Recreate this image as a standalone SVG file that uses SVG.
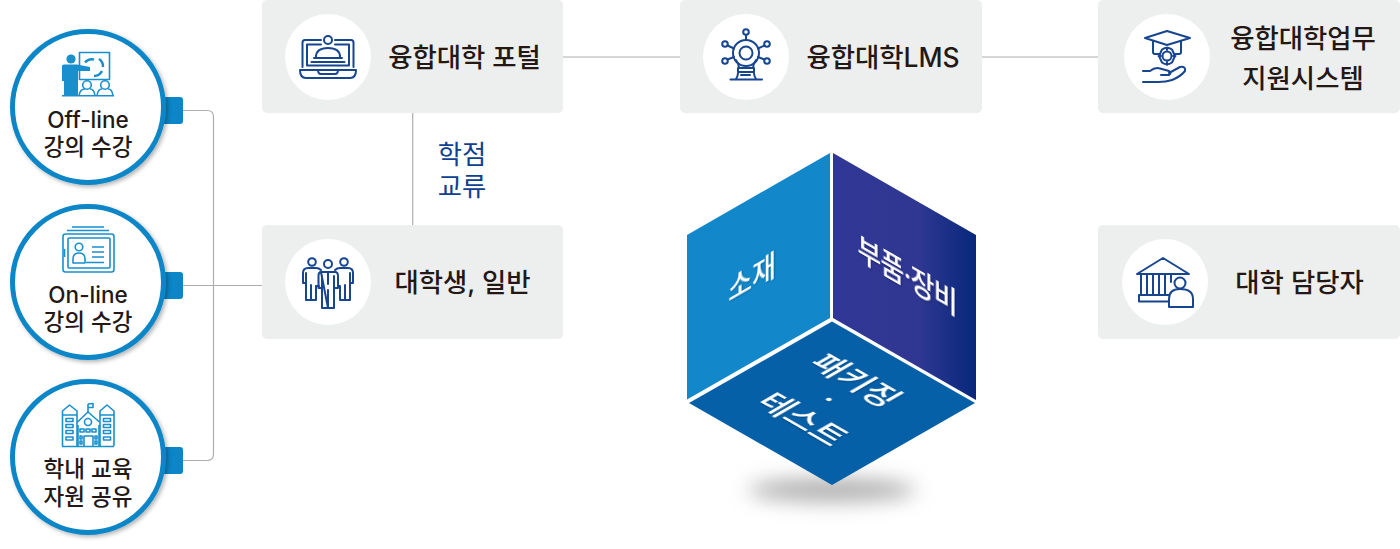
<svg xmlns="http://www.w3.org/2000/svg" width="1400" height="549" viewBox="0 0 1400 549">
<style>
text{font-family:Inter,"Noto Sans CJK KR","Noto Sans",sans-serif;font-weight:500;fill:#231815;text-anchor:middle}
.t{font-size:26.400px}
.c{font-size:22.500px}
.box{fill:#edeeee}
.ic{fill:#fff}
.d{fill:none;stroke:#17458f;stroke-width:2;stroke-linecap:round;stroke-linejoin:round}
.l{fill:none;stroke:#1a8fcd;stroke-width:1.6;stroke-linejoin:round}
.lf{fill:#1a8fcd}
.ring{fill:#fff;stroke:#0b86c8;stroke-width:5;filter:url(#sh)}
.tab{fill:#0b86c8}
.f{font-size:30px;fill:#fff;font-weight:500;filter:url(#ts)}
.g{font-size:32px}
.conn{fill:none;stroke:#aeaeae;stroke-width:1.2}
.cr{font-size:26.400px;font-weight:400;fill:#0f3f8f}
</style>
<defs>
<filter id="sh" x="-10%" y="-10%" width="125%" height="125%"><feDropShadow dx="2" dy="2" stdDeviation="2" flood-color="#000" flood-opacity=".3"/></filter>
<filter id="ts" x="-10%" y="-20%" width="120%" height="140%"><feDropShadow dx="1" dy="1" stdDeviation="1" flood-color="#000" flood-opacity=".3"/></filter>
<filter id="bl" x="-30%" y="-100%" width="160%" height="300%"><feGaussianBlur stdDeviation="10"/></filter>
<linearGradient id="rg" x1="0" x2="1" y1="0" y2="0"><stop offset="0" stop-color="#303795"/><stop offset=".6" stop-color="#2f3792"/><stop offset="1" stop-color="#07287c"/></linearGradient>
</defs>

<g id="connectors">
<path class="conn" d="M183 110.500H207Q213.500 110.500 213.500 117V454Q213.500 460.500 207 460.500H183"/>
<path class="conn" d="M183 285.500H262"/>
<path class="conn" d="M563 57H680M982 57H1098"/>
<path class="conn" d="M412.700 113V225"/>
</g>

<g id="offline">
<rect class="tab" x="160" y="97" width="23" height="27" rx="3"/>
<circle class="ring" cx="88" cy="107" r="75.500"/>
<g>
<rect class="l" x="79.500" y="52.500" width="30" height="27"/>
<circle class="lf" cx="71" cy="59" r="4.600"/>
<path class="lf" d="M62 66Q62 64.500 64 64.500H77L90 67V71H78V95H64V81H62Z"/>
<path d="M85 62.500a9 9 0 0 1 9-3M99 59a9 9 0 0 1 4 8M102 71a9 9 0 0 1-8 5" fill="none" stroke="#1a8fcd" stroke-width="2.500"/>
<circle class="l" cx="87" cy="85" r="4.300"/>
<circle class="l" cx="105" cy="85" r="4.300"/>
<path class="l" d="M79 95.500Q80 89 85 89M95 95.500Q94 89 90 89M97 95.500Q98 89 102 89M113 95.500Q112 89 108 89"/>
<path class="l" d="M62 95.700H114"/>
</g>
<text class="c"><tspan x="88" y="127.500">Off-line</tspan><tspan x="88" y="155">강의 수강</tspan></text>
</g>

<g id="online">
<rect class="tab" x="160" y="272" width="23" height="27" rx="3"/>
<circle class="ring" cx="88" cy="282" r="75.500"/>
<g>
<path class="l" d="M72 227H104M67 230.500H109"/>
<rect class="l" x="63" y="234" width="51" height="38" rx="2.500"/>
<rect class="l" x="68" y="238" width="42" height="30" rx="1"/>
<circle class="l" cx="79" cy="247" r="3.800"/>
<path class="l" d="M73 263V259Q73 253 79 253Q85 253 85 259V263Z"/>
<path class="l" d="M92 247H104M92 252H104M92 257H104M86 262.500H104M64.500 249V257"/>
</g>
<text class="c"><tspan x="88" y="302.500">On-line</tspan><tspan x="88" y="330">강의 수강</tspan></text>
</g>

<g id="campus">
<rect class="tab" x="160" y="447" width="23" height="27" rx="3"/>
<circle class="ring" cx="88" cy="457" r="75.500"/>
<g class="l">
<path d="M62.500 446V411L69.500 405L77 411V446M100 446V411L107 405L114 411V446M62.500 415H77M100 415H114"/>
<path d="M77.500 422L88 412L99.500 422M78 425V446M99 425V446M62 446.500H114"/>
<path d="M88 412V404M88 404L93 403.500V407.500H88"/>
<circle cx="88" cy="422" r="3.500"/>
<path d="M66 418.500h7v3h-7zM66 424.500h7v3h-7zM66 430.500h7v3h-7zM66 437h7v3h-7zM103.500 418.500h7v3h-7zM103.500 424.500h7v3h-7zM103.500 430.500h7v3h-7zM103.500 437h7v3h-7zM80 429h4v3h-4zM86 429h4v3h-4zM92 429h4v3h-4zM84 446V436H93V446M80 436h2v3h-2zM80 441h2v3h-2zM95 436h2v3h-2zM95 441h2v3h-2z"/>
</g>
<text class="c"><tspan x="88" y="477">학내 교육</tspan><tspan x="88" y="505">자원 공유</tspan></text>
</g>

<g id="portal">
<rect class="box" x="262" y="0" width="301" height="113" rx="5"/>
<circle class="ic" cx="328" cy="57" r="43"/>
<g class="d">
<path d="M321 40H305Q302.500 40 302.500 42.500V67M335 40H351Q353.500 40 353.500 42.500V67"/>
<path d="M321 44.500H307V65.500H349V44.500H335"/>
<circle cx="328" cy="40" r="4"/>
<path d="M316 57Q316 48 328 48Q340 48 340 57"/>
<path d="M314 58H342M311.500 62H344.500"/>
<path d="M300 70H356Q356 78 350 78H306Q300 78 300 70ZM318 70Q318 74 321 74H335Q338 74 338 70"/>
</g>
<text class="t" x="464.500" y="66.500">융합대학 포털</text>
</g>

<g id="lms">
<rect class="box" x="680" y="0" width="302" height="113" rx="5"/>
<circle class="ic" cx="746" cy="57" r="43"/>
<g class="d">
<circle cx="746" cy="53" r="6.500"/>
<circle cx="746" cy="53" r="13"/>
<circle cx="746" cy="32" r="2.800"/>
<circle cx="725" cy="44" r="2.800"/>
<circle cx="767" cy="44" r="2.800"/>
<circle cx="725" cy="61" r="2.800"/>
<circle cx="767" cy="61" r="2.800"/>
<path d="M746 35V40M727.500 45.500L734 48.500M764.500 45.500L758 48.500M727.500 59.500L734 57M764.500 59.500L758 57"/>
<path d="M736 60Q739 64 739 68H753Q753 64 756 60M738 68V72H754V68M738 73Q738 76 736 79M754 73Q754 76 756 79M730.500 79.500H762M741 75H750"/>
</g>
<text class="t" x="883" y="66.500">융합대학LMS</text>
</g>

<g id="support">
<rect class="box" x="1098" y="0" width="302" height="113" rx="5"/>
<circle class="ic" cx="1167" cy="57" r="43"/>
<g class="d">
<path d="M1145 38L1167 31L1190 38L1167 45Z"/>
<path d="M1153 41V52Q1153 54 1155 54H1160M1181 41V52Q1181 54 1179 54H1175"/>
<circle cx="1167" cy="56" r="4.500"/>
<path d="M1167 47.500V50M1167 62V65M1158.500 56H1161M1173 56H1175.500M1162 49.500Q1167 46 1172 49.500L1175 56L1172 62.500Q1167 66 1162 62.500L1159 56Z"/>
<path d="M1143 71H1150Q1155 67 1160 68.500L1169 71Q1172 73 1169 75H1161M1169 73L1180 67Q1186 66 1185 71Q1180 77 1172 80Q1165 82.500 1155 82H1143"/>
</g>
<text class="t"><tspan x="1303" y="48">융합대학업무</tspan><tspan x="1303" y="88">지원시스템</tspan></text>
</g>

<g id="student">
<rect class="box" x="262" y="225" width="301" height="114" rx="5"/>
<circle class="ic" cx="328" cy="282" r="43"/>
<g class="d">
<circle cx="312" cy="262" r="3.800"/>
<circle cx="328" cy="264" r="4"/>
<circle cx="344" cy="262" r="3.800"/>
<path d="M321 270Q319 268 316 268H308Q303 268 303 273V283H306V273M306 283V300H311V285M311 300H316V286H319"/>
<path d="M335 270Q337 268 340 268H348Q353 268 353 273V283H350V273M350 283V300H345V285M345 300H340V286H338"/>
<path d="M321 272H335Q338 272 338 276V288H334V308H328V290M328 308H322V288H318.500V276Q318.500 272 321 272ZM328 272V284M322 276V288M334 276V288"/>
</g>
<text class="t" x="462.500" y="292">대학생, 일반</text>
</g>

<g id="staff">
<rect class="box" x="1098" y="225" width="302" height="114" rx="5"/>
<circle class="ic" cx="1165" cy="282" r="43"/>
<g class="d">
<path d="M1137 274L1163 258L1189 274ZM1141 274V295M1147 274V295M1153 274V295M1159 274V295M1165 274V295M1171 274V282"/>
<path d="M1139 295H1169M1139 295V301.500H1168"/>
<circle cx="1180" cy="283" r="5.500"/>
<path d="M1169 307V299Q1169 289 1180 289Q1193 289 1193 299V307Z"/>
</g>
<text class="t" x="1299.500" y="292">대학 담당자</text>
</g>

<g id="label-credit">
<text class="cr"><tspan x="462" y="163.500">학점</tspan><tspan x="462" y="195.500">교류</tspan></text>
</g>

<g id="cube">
<ellipse cx="832" cy="490" rx="84" ry="12" fill="#b0b0b0" filter="url(#bl)"/>
<path fill="#1287c9" d="M830 153L687 235V399.500L830 318Z"/>
<path fill="url(#rg)" d="M833 153L976 235V400L833 318Z"/>
<path fill="#0560a8" d="M832 321.500L975 403L832 485L689 403Z"/>
<text class="f" transform="matrix(.866 -.5 0 1 752 288)">소재</text>
<text class="f" transform="matrix(.866 .5 0 1 907 286)" letter-spacing="-1">부품·장비</text>
<text class="f g" transform="matrix(.866 .5 -.866 .5 846 386)">패키징</text>
<text class="f g" transform="matrix(.866 .5 -.866 .5 819 405)">·</text>
<text class="f g" transform="matrix(.866 .5 -.866 .5 793 425)">테스트</text>
</g>
</svg>
